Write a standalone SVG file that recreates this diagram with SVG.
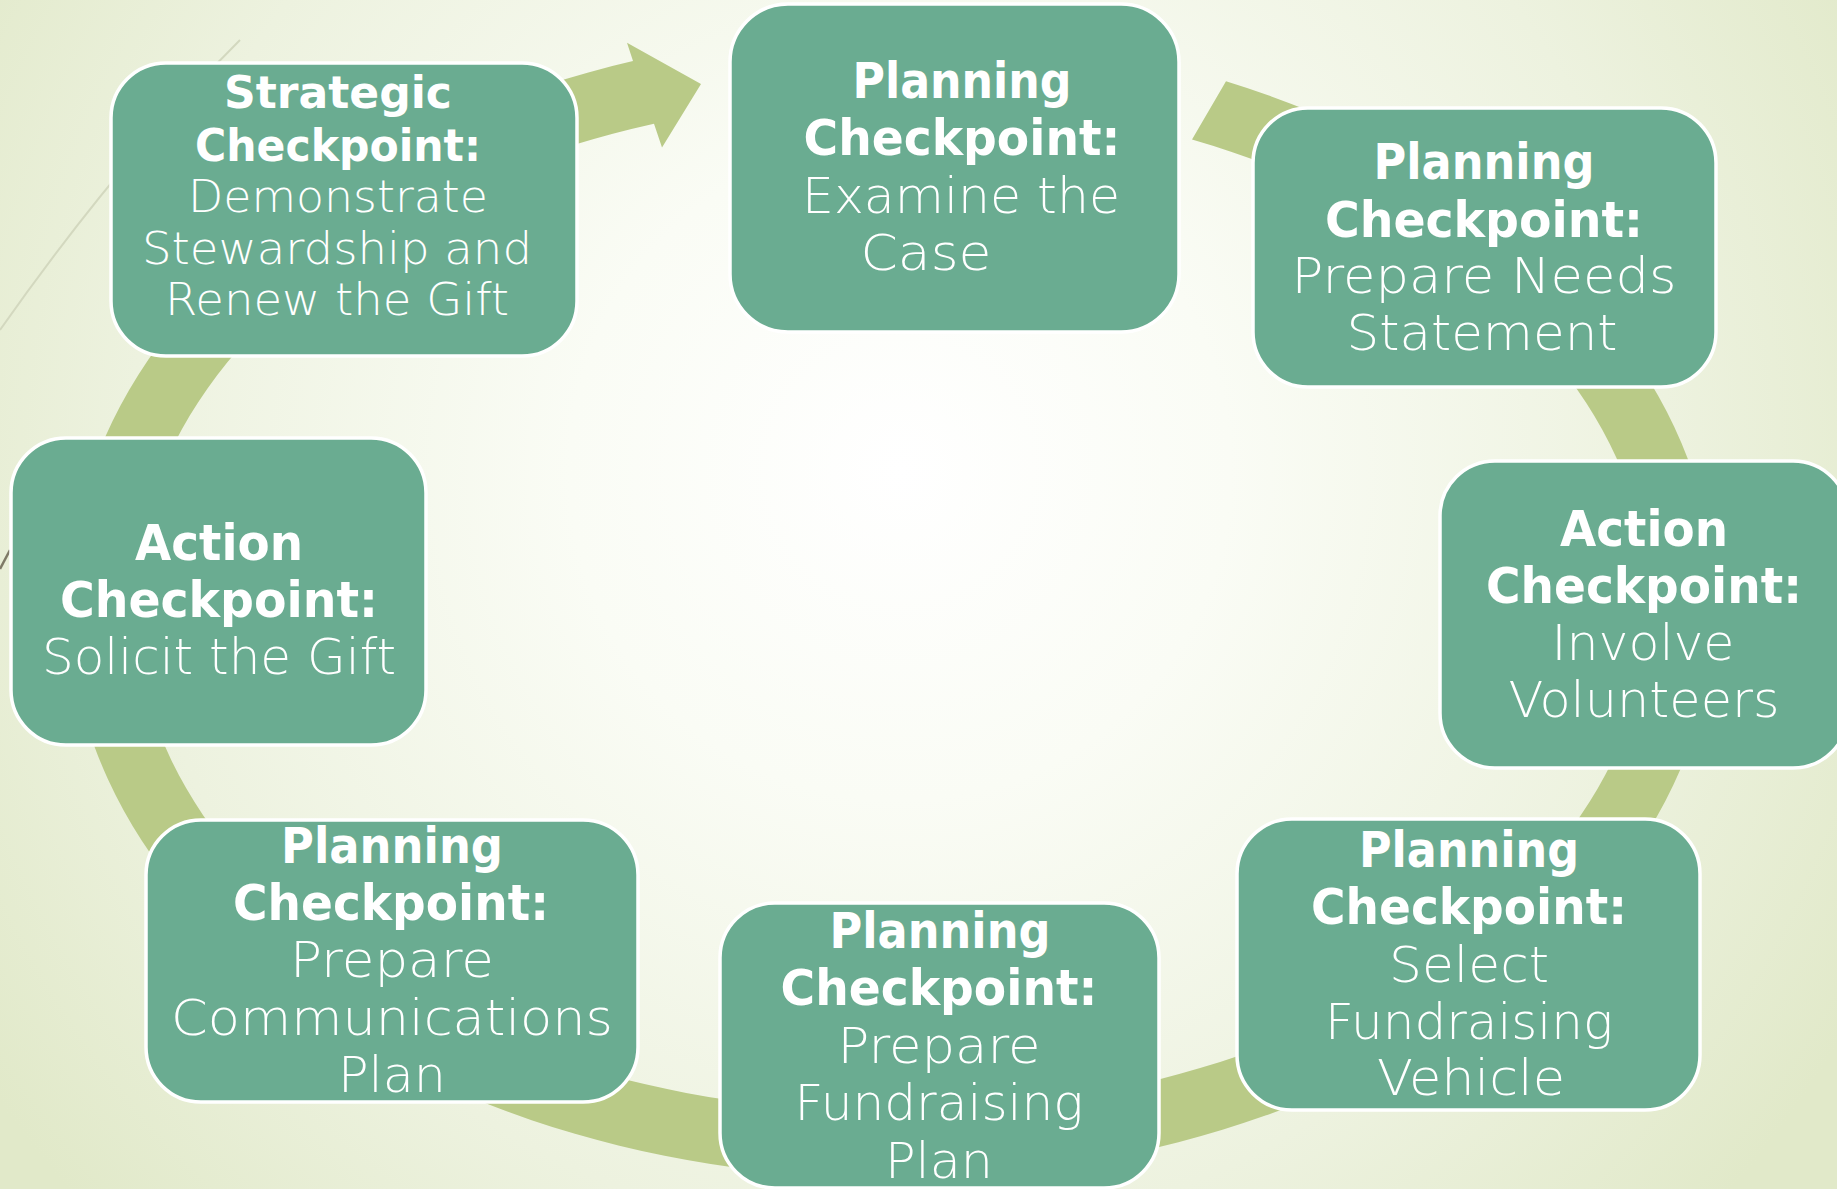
<svg xmlns="http://www.w3.org/2000/svg" width="1837" height="1189" viewBox="0 0 1837 1189">
  <defs>
    <radialGradient id="bg" gradientUnits="userSpaceOnUse" cx="900" cy="470" r="1100">
      <stop offset="0" stop-color="#FFFFFF"/>
      <stop offset="0.3" stop-color="#FAFCF5"/>
      <stop offset="0.7" stop-color="#EDF2DF"/>
      <stop offset="1" stop-color="#E1E9C9"/>
    </radialGradient>
    <style>
      .box { fill: #6AAC91; stroke: #FFFFFF; stroke-width: 3.5; }
      .t { fill: #FFFFFF; font-family: "DejaVu Sans", "Liberation Sans", sans-serif; text-anchor: middle; }
      .b { font-weight: bold; font-size: 50px; }
      .r { font-family: "DejaVu Sans ExtraLight", "DejaVu Sans Light", "DejaVu Sans", sans-serif; font-weight: 200; font-size: 50px; }
      .s.b, .s.r { font-size: 45px; }
    </style>
  </defs>

  <rect x="0" y="0" width="1837" height="1189" fill="url(#bg)"/>

  <!-- background decorative lines -->
  <path d="M 240 40 Q 118 162 0 330" fill="none" stroke="#D3D8BF" stroke-width="2"/>
  <line x1="0" y1="569" x2="10" y2="550" stroke="#7E7A66" stroke-width="2.5"/>

  <!-- connectors: cycle band with arrowhead -->
  <g id="connectors">
    <path d="M 1226 81.3 A 823 573 0 1 1 633 61.1 L 627 42.8 L 701 84 L 662 147.5 L 654 123.7 A 757 507 0 1 0 1192 139.5 Z" fill="#B9CA87"/>
  </g>

  <g id="node-strategic">
    <rect class="box" x="111" y="63" width="466" height="293" rx="55"/>
    <text class="t b s" x="338" y="108" textLength="228" lengthAdjust="spacingAndGlyphs">Strategic</text>
    <text class="t b s" x="338" y="161" textLength="286" lengthAdjust="spacingAndGlyphs">Checkpoint:</text>
    <text class="t r s" x="338" y="212" textLength="300" lengthAdjust="spacingAndGlyphs">Demonstrate</text>
    <text class="t r s" x="337" y="264" textLength="390" lengthAdjust="spacingAndGlyphs">Stewardship and</text>
    <text class="t r s" x="337" y="315" textLength="344" lengthAdjust="spacingAndGlyphs">Renew the Gift</text>
  </g>

  <g id="node-examine">
    <rect class="box" x="730" y="4" width="449" height="328" rx="58"/>
    <text class="t b" x="962" y="98" textLength="219" lengthAdjust="spacingAndGlyphs">Planning</text>
    <text class="t b" x="962" y="155" textLength="317" lengthAdjust="spacingAndGlyphs">Checkpoint:</text>
    <text class="t r" x="961" y="213" textLength="318" lengthAdjust="spacingAndGlyphs">Examine the</text>
    <text class="t r" x="926" y="270" textLength="131" lengthAdjust="spacingAndGlyphs">Case</text>
  </g>

  <g id="node-needs">
    <rect class="box" x="1253" y="108" width="463" height="279" rx="55"/>
    <text class="t b" x="1484" y="179" textLength="221" lengthAdjust="spacingAndGlyphs">Planning</text>
    <text class="t b" x="1484" y="237" textLength="318" lengthAdjust="spacingAndGlyphs">Checkpoint:</text>
    <text class="t r" x="1484" y="293" textLength="385" lengthAdjust="spacingAndGlyphs">Prepare Needs</text>
    <text class="t r" x="1482" y="350" textLength="271" lengthAdjust="spacingAndGlyphs">Statement</text>
  </g>

  <g id="node-volunteers">
    <rect class="box" x="1440" y="461" width="408" height="307" rx="55"/>
    <text class="t b" x="1644" y="546" textLength="168" lengthAdjust="spacingAndGlyphs">Action</text>
    <text class="t b" x="1644" y="603" textLength="316" lengthAdjust="spacingAndGlyphs">Checkpoint:</text>
    <text class="t r" x="1643" y="660" textLength="183" lengthAdjust="spacingAndGlyphs">Involve</text>
    <text class="t r" x="1644" y="717" textLength="271" lengthAdjust="spacingAndGlyphs">Volunteers</text>
  </g>

  <g id="node-vehicle">
    <rect class="box" x="1237" y="819" width="463" height="291" rx="55"/>
    <text class="t b" x="1469" y="867" textLength="220" lengthAdjust="spacingAndGlyphs">Planning</text>
    <text class="t b" x="1469" y="924" textLength="316" lengthAdjust="spacingAndGlyphs">Checkpoint:</text>
    <text class="t r" x="1469" y="982" textLength="160" lengthAdjust="spacingAndGlyphs">Select</text>
    <text class="t r" x="1469" y="1039" textLength="288" lengthAdjust="spacingAndGlyphs">Fundraising</text>
    <text class="t r" x="1471" y="1095" textLength="188" lengthAdjust="spacingAndGlyphs">Vehicle</text>
  </g>

  <g id="node-fundraising-plan">
    <rect class="box" x="720" y="903" width="439" height="285" rx="55"/>
    <text class="t b" x="940" y="948" textLength="221" lengthAdjust="spacingAndGlyphs">Planning</text>
    <text class="t b" x="939" y="1005" textLength="317" lengthAdjust="spacingAndGlyphs">Checkpoint:</text>
    <text class="t r" x="939" y="1063" textLength="203" lengthAdjust="spacingAndGlyphs">Prepare</text>
    <text class="t r" x="939" y="1120" textLength="289" lengthAdjust="spacingAndGlyphs">Fundraising</text>
    <text class="t r" x="939" y="1178" textLength="108" lengthAdjust="spacingAndGlyphs">Plan</text>
  </g>

  <g id="node-communications">
    <rect class="box" x="146" y="820" width="492" height="282" rx="55"/>
    <text class="t b" x="392" y="863" textLength="222" lengthAdjust="spacingAndGlyphs">Planning</text>
    <text class="t b" x="391" y="920" textLength="316" lengthAdjust="spacingAndGlyphs">Checkpoint:</text>
    <text class="t r" x="392" y="977" textLength="204" lengthAdjust="spacingAndGlyphs">Prepare</text>
    <text class="t r" x="392" y="1035" textLength="442" lengthAdjust="spacingAndGlyphs">Communications</text>
    <text class="t r" x="392" y="1092" textLength="108" lengthAdjust="spacingAndGlyphs">Plan</text>
  </g>

  <g id="node-solicit">
    <rect class="box" x="11" y="438" width="415" height="307" rx="55"/>
    <text class="t b" x="219" y="560" textLength="168" lengthAdjust="spacingAndGlyphs">Action</text>
    <text class="t b" x="219" y="617" textLength="318" lengthAdjust="spacingAndGlyphs">Checkpoint:</text>
    <text class="t r" x="219" y="674" textLength="354" lengthAdjust="spacingAndGlyphs">Solicit the Gift</text>
  </g>
</svg>
